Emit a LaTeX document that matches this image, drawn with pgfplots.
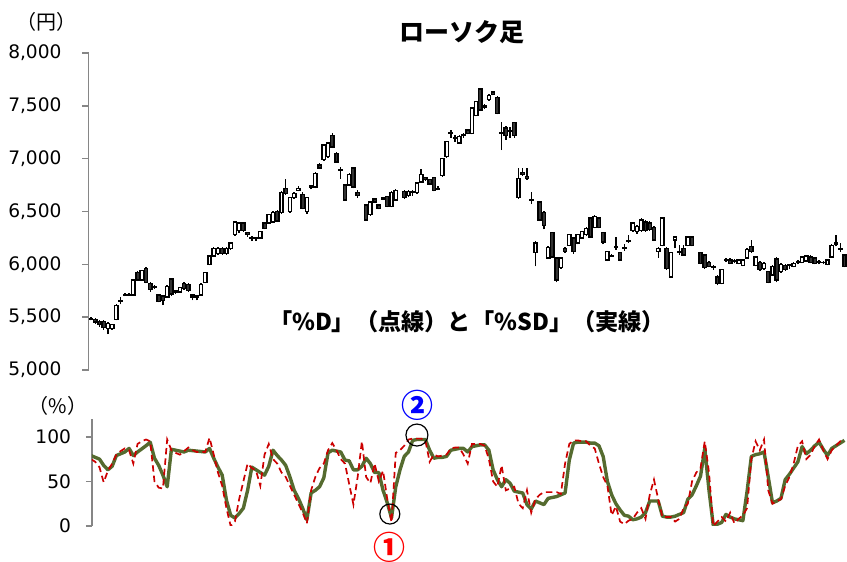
\documentclass[border=0pt]{standalone}
\usepackage{pgfplots}
\pgfplotsset{compat=1.18}
\usepackage{pgfplotstable}
\usepackage{fontspec}
\setmainfont{Noto Sans CJK JP}
\newfontfamily\dejavu{DejaVu Sans}
\definecolor{sdgreen}{RGB}{85,107,47}
\definecolor{dred}{RGB}{204,0,0}
\definecolor{axgray}{RGB}{134,134,134}
\definecolor{bodydark}{RGB}{50,50,50}

% day open high low close
\pgfplotstableread{
d o h l c
1 5490 5500 5470 5480
2 5480 5490 5440 5455
3 5460 5470 5410 5430
4 5460 5470 5380 5400
5 5390 5450 5340 5440
6 5390 5440 5380 5430
7 5480 5620 5470 5610
8 5650 5690 5620 5660
9 5710 5730 5700 5715
10 5715 5730 5700 5710
11 5710 5860 5700 5850
12 5920 5940 5840 5850
13 5850 5950 5840 5940
14 5960 5970 5820 5830
15 5820 5830 5740 5760
16 5790 5800 5770 5785
17 5710 5720 5640 5650
18 5700 5710 5615 5660
19 5690 5800 5680 5790
20 5860 5870 5700 5720
21 5740 5760 5720 5750
22 5740 5790 5730 5780
23 5820 5830 5760 5770
24 5810 5820 5740 5750
25 5710 5720 5660 5690
26 5690 5710 5660 5700
27 5710 5820 5700 5810
28 5830 5930 5820 5920
29 6000 6090 5990 6080
30 6080 6160 6070 6150
31 6100 6160 6090 6150
32 6150 6160 6090 6100
33 6100 6160 6090 6150
34 6150 6210 6140 6200
35 6280 6410 6270 6400
36 6320 6400 6300 6390
37 6390 6400 6310 6320
38 6300 6310 6260 6280
39 6250 6270 6220 6245
40 6245 6260 6220 6250
41 6250 6320 6240 6310
42 6390 6400 6330 6340
43 6390 6480 6380 6470
44 6400 6500 6390 6490
45 6500 6510 6400 6410
46 6490 6690 6480 6680
47 6720 6810 6660 6670
48 6500 6640 6490 6630
49 6630 6680 6620 6670
50 6700 6740 6690 6720
51 6660 6680 6520 6530
52 6500 6640 6480 6630
53 6730 6750 6710 6740
54 6730 6870 6720 6860
55 6940 6960 6900 6910
56 6990 7140 6980 7130
57 7020 7160 7010 7150
58 7220 7240 7100 7110
59 7050 7060 6960 6970
60 6900 6920 6810 6890
61 6750 6760 6600 6610
62 6750 6860 6740 6850
63 6910 6920 6720 6730
64 6680 6700 6630 6650
66 6560 6570 6410 6420
67 6470 6600 6460 6590
68 6620 6630 6580 6590
69 6560 6570 6520 6530
70 6620 6640 6610 6630
71 6640 6650 6540 6550
72 6550 6690 6540 6680
73 6610 6710 6600 6700
75 6690 6700 6620 6630
76 6650 6700 6640 6690
77 6680 6700 6650 6685
78 6680 6780 6670 6770
79 6780 6900 6770 6850
80 6820 6830 6790 6800
81 6800 6810 6750 6760
82 6820 6830 6690 6700
83 6720 6740 6700 6710
84 6840 7010 6830 7000
85 7020 7170 7010 7160
86 7240 7270 7200 7245
87 7200 7220 7160 7190
88 7150 7220 7140 7210
89 7220 7240 7200 7230
90 7270 7280 7230 7240
91 7240 7490 7230 7480
92 7410 7550 7400 7540
93 7660 7670 7450 7460
94 7490 7520 7470 7500
95 7560 7610 7550 7600
96 7630 7640 7600 7610
97 7580 7590 7420 7430
98 7240 7350 7080 7250
99 7290 7310 7180 7220
100 7260 7300 7200 7255
101 7340 7350 7200 7220
102 6630 6910 6620 6810
103 6870 6910 6840 6850
104 6830 6910 6800 6810
105 6610 6680 6570 6615
106 6110 6220 5980 6200
107 6590 6600 6410 6420
108 6490 6500 6330 6370
109 6060 6170 6050 6160
110 6300 6310 6060 6070
111 6060 6070 5830 5850
112 5970 6070 5960 6060
113 6150 6160 6110 6120
114 6180 6290 6170 6280
115 6250 6260 6100 6120
116 6200 6290 6190 6280
117 6250 6320 6240 6310
118 6280 6350 6270 6340
119 6440 6450 6250 6260
120 6350 6470 6340 6450
121 6440 6450 6340 6350
122 6300 6310 6190 6210
123 6040 6130 6030 6120
124 6080 6100 6070 6085
125 6160 6260 6140 6165
126 6110 6120 6030 6040
127 6150 6190 6130 6155
128 6220 6280 6200 6225
129 6320 6400 6310 6390
130 6310 6370 6290 6360
131 6320 6440 6310 6420
132 6400 6420 6310 6320
133 6390 6410 6320 6330
134 6350 6360 6220 6230
135 6120 6160 6060 6150
136 6180 6450 6170 6440
137 6150 6160 5950 5960
138 5880 6120 5870 6110
139 6230 6270 6150 6260
140 6110 6180 6090 6115
141 6150 6180 6080 6090
142 6180 6270 6170 6260
143 6260 6270 6170 6180
145 6110 6120 6000 6010
146 6090 6100 5960 5970
147 6020 6030 5970 5980
148 5970 5990 5950 5975
149 5880 5900 5800 5820
150 5820 5960 5810 5950
151 6040 6060 6020 6045
152 6040 6060 6000 6010
153 6030 6050 6010 6035
154 6010 6050 6000 6040
155 5990 6050 5980 6040
156 6060 6150 6050 6140
157 6170 6230 6110 6120
158 5990 6080 5980 6070
159 6020 6030 5940 5950
160 5960 6020 5950 6010
161 5930 5940 5820 5830
162 5900 5990 5890 5980
163 6050 6070 5830 5850
164 5930 6010 5920 6000
165 5990 6000 5940 5950
166 5990 6000 5960 5995
167 5980 6020 5970 6010
168 6020 6040 6000 6025
169 6020 6080 6010 6070
170 6030 6090 6020 6080
171 6070 6090 6010 6020
172 6060 6070 6000 6010
173 6020 6040 6000 6025
174 6020 6030 6000 6015
175 6000 6050 5990 6040
176 6070 6190 6060 6180
177 6190 6280 6170 6200
178 6140 6200 6120 6145
179 6090 6100 5970 5980
}\candles

% %D (dashed)
\pgfplotstableread{
d v
1 75
2 72
3 66
4 49
5 62
6 70
7 80
8 84
9 87
10 85
11 70
12 92
13 95
14 97
15 95
16 50
17 43
18 42
19 97
20 85
21 82
22 80
23 84
24 88
25 85
26 83
27 83
28 83
29 99
30 80
31 60
32 45
33 20
34 0
35 5
36 30
37 50
38 70
39 65
40 62
41 45
42 80
43 92
44 75
45 70
46 60
47 55
48 45
49 35
50 25
51 15
52 3
53 40
54 55
55 65
56 70
57 85
58 93
59 85
60 75
61 70
62 47
63 24
64 55
65 95
66 55
67 48
68 70
69 50
70 62
71 30
72 4
73 82
74 85
75 90
76 97
77 98
78 98
79 98
80 96
81 72
82 80
83 78
84 79
85 80
86 87
87 88
88 88
89 80
90 70
91 92
92 92
93 92
94 90
95 75
96 50
97 44
98 68
99 40
100 42
101 44
102 25
103 20
104 40
105 15
106 30
107 35
108 38
109 38
110 38
111 38
112 36
113 70
114 92
115 96
116 96
117 95
118 95
119 90
120 87
121 70
122 55
123 45
124 12
125 22
126 5
127 2
128 6
129 8
130 15
131 20
132 8
133 35
134 52
135 30
136 10
137 10
138 10
139 5
140 8
141 20
142 25
143 50
144 60
145 65
146 95
147 60
148 0
149 5
150 10
151 5
152 15
153 3
154 8
155 12
156 20
157 75
158 95
159 85
160 97
161 40
162 25
163 28
164 30
165 45
166 55
167 70
168 90
169 95
170 75
171 80
172 90
173 97
174 85
175 75
176 85
177 90
178 95
179 96
}\pctD

% %SD (solid)
\pgfplotstableread{
d v
1 79
3 75
4 68
5 63
6 67
7 79
9 83
10 87
11 79
12 83
14 90
15 94
16 76
17 68
18 57
19 44
20 86
21 85
23 83
24 85
26 84
28 83
29 87
30 76
31 66
32 57
33 29
34 12
35 9
36 14
37 20
38 40
39 66
40 63
41 60
42 57
43 67
44 85
45 79
46 74
47 68
48 55
49 40
50 31
51 20
52 7
53 37
54 40
55 44
56 54
57 82
58 85
59 84
60 83
61 74
62 73
63 63
64 63
65 67
66 76
67 70
68 60
69 60
70 40
71 26
72 9
73 44
74 63
75 78
76 83
77 96
78 97
79 97
80 97
81 85
82 76
83 77
84 77
85 78
86 85
87 86
88 87
89 87
90 83
91 89
92 90
93 91
94 91
95 85
96 63
97 52
98 44
99 52
100 48
101 39
102 38
103 37
104 24
105 19
106 28
107 26
108 24
109 31
110 32
111 33
112 35
113 37
114 74
115 93
116 94
117 94
118 94
119 93
120 93
121 90
122 78
123 50
124 35
125 25
126 18
127 12
128 11
129 7
130 8
131 10
132 15
133 28
134 28
135 28
136 11
137 10
138 10
139 11
140 13
141 15
142 30
143 35
144 45
145 56
146 87
147 40
148 1
149 2
150 4
151 13
152 10
153 8
154 7
155 6
156 39
157 78
158 80
159 81
160 83
161 55
162 26
163 28
164 31
165 52
166 58
167 65
168 72
169 89
170 81
171 85
172 90
173 94
174 86
175 79
176 87
177 90
178 93
179 96
}\pctSD

\begin{document}
\begin{tikzpicture}
\path[use as bounding box] (0,0) rectangle (423.5pt,281pt);
\pgfplotsset{
  candlebox/.style={at={(44.25pt,96pt)}, anchor=south west,
    width=379.25pt, height=158.5pt, scale only axis,
    xmin=0.41, xmax=179.6, ymin=5000, ymax=8000},
  grayaxis/.style={axis x line=none, axis y line*=left,
    y axis line style={axgray, line width=0.8pt},
    tick align=outside, major tick length=3pt,
    ytick style={axgray, line width=0.8pt},
    scaled y ticks=false,
    /pgf/number format/assume math mode=true,
    yticklabel style={font=\dejavu\fontsize{9.3}{11}\selectfont, anchor=east, inner sep=0pt}},
}
% wicks
\begin{axis}[candlebox, hide axis]
\addplot[draw=none, mark=none, error bars/.cd, y dir=plus, y explicit,
  error mark=none, error bar style={draw=black, solid, line width=0.7pt}]
  table[x=d, y=l, y error expr=\thisrow{h}-\thisrow{l}] {\candles};
\end{axis}
% bodies
\begin{axis}[candlebox, grayaxis, ybar stacked, bar width=0.78,
  ytick={5000,5500,...,8000}, yticklabel style={xshift=-10.3pt}]
\addplot[draw=none, fill=none] table[x=d, y expr={min(\thisrow{o},\thisrow{c})}] {\candles};
\addplot[draw=black, line width=0.7pt, fill=white] table[x=d, y expr={max(\thisrow{c}-\thisrow{o},0)}] {\candles};
\addplot[draw=black, line width=0.7pt, fill=bodydark] table[x=d, y expr={max(\thisrow{o}-\thisrow{c},0)}] {\candles};
\end{axis}
% stochastics
\begin{axis}[at={(46pt,18pt)}, anchor=south west, width=377.5pt, height=53.5pt,
  scale only axis, xmin=1.24, xmax=179.6, ymin=0, ymax=120, grayaxis,
  ytick={0,50,100}, yticklabel style={xshift=-7.3pt}, clip mode=individual]
\addplot[sdgreen, line width=1.7pt, line join=round] table[x=d, y=v] {\pctSD};
\addplot[dred, line width=0.85pt, dash pattern=on 3.2pt off 2pt] table[x=d, y=v] {\pctD};
\draw[black, line width=0.6pt] (axis cs:71.6,13.4) circle[radius=5pt];
\draw[black, line width=0.6pt] (axis cs:78,102) circle[radius=5.5pt];
\node[text=red, font=\bfseries\fontsize{16}{18}\selectfont] at (axis cs:71.6,-23.5) {①};
\node[text=blue, font=\bfseries\fontsize{16}{18}\selectfont] at (axis cs:78.2,135.5) {②};
\end{axis}
\node[font=\bfseries\fontsize{12.5}{14}\selectfont] at (231pt,265pt) {ローソク足};
\node[font=\bfseries\fontsize{11.6}{14}\selectfont] at (233.5pt,120pt) {「\%D」（点線）と「\%SD」（実線）};
\node[font=\fontsize{10}{12}\selectfont] at (23.5pt,270pt) {（円）};
\node[font=\fontsize{10}{12}\selectfont] at (29pt,78pt) {（\%）};
\end{tikzpicture}
\end{document}
